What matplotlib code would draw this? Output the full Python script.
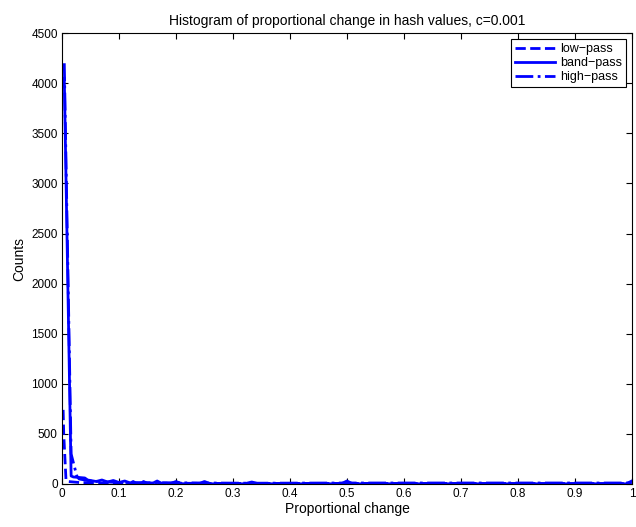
import matplotlib
matplotlib.use("Agg")
from matplotlib import pyplot as plt

plt.rcParams["font.family"] = ["Liberation Sans", "DejaVu Sans"]

# histogram curves (bin position -> count)
low_x = [0.002, 0.003, 0.007, 0.01, 0.02, 0.03, 0.05, 0.08, 0.1, 0.2, 0.25, 0.333, 0.5, 0.99, 1.0]
low_y = [740, 500, 40, 25, 20, 15, 12, 10, 8, 8, 6, 6, 6, 5, 10]

band_x = [0.004, 0.016, 0.02, 0.03, 0.04, 0.045, 0.05, 0.06, 0.07, 0.08, 0.09, 0.1, 0.11,
          0.12, 0.125, 0.13, 0.14, 0.143, 0.15, 0.16, 0.167, 0.175, 0.19, 0.2, 0.21,
          0.24, 0.25, 0.26, 0.32, 0.333, 0.345, 0.49, 0.5, 0.51, 0.99, 1.0]
band_y = [4050, 80, 70, 65, 60, 40, 35, 25, 40, 20, 35, 15, 30,
          10, 25, 5, 10, 25, 5, 10, 30, 5, 3, 25, 3,
          2, 25, 2, 2, 20, 2, 2, 30, 2, 2, 30]

high_x = [0.004, 0.016, 0.026, 0.03, 0.05, 0.08, 0.1, 0.2, 0.25, 0.333, 0.5, 1.0]
high_y = [4200, 300, 80, 50, 30, 20, 15, 12, 10, 8, 10, 10]

x_ticks = [0, 0.1, 0.2, 0.3, 0.4, 0.5, 0.6, 0.7, 0.8, 0.9, 1]
x_labels = ["0", "0.1", "0.2", "0.3", "0.4", "0.5", "0.6", "0.7", "0.8", "0.9", "1"]
y_ticks = [0, 500, 1000, 1500, 2000, 2500, 3000, 3500, 4000, 4500]


def main():
    fig = plt.figure(figsize=(6.36, 5.27), dpi=100)
    ax = fig.add_axes([0.0975, 0.0816, 0.896, 0.8554])

    ax.plot(low_x, low_y, "--", color="blue", lw=2, label="low\u2212pass")
    ax.plot(band_x, band_y, "-", color="blue", lw=2, label="band\u2212pass")
    ax.plot(high_x, high_y, "-.", color="blue", lw=2, label="high\u2212pass")

    ax.set_xlim(0, 1)
    ax.set_ylim(0, 4500)
    ax.set_xticks(x_ticks)
    ax.set_xticklabels(x_labels)
    ax.set_yticks(y_ticks)
    ax.tick_params(direction="in", top=True, right=True, labelsize=8.5, length=4, pad=3)
    for s in ax.spines.values():
        s.set_linewidth(0.8)

    ax.set_title("Histogram of proportional change in hash values, c=0.001", fontsize=10, pad=6)
    ax.set_xlabel("Proportional change", fontsize=10, labelpad=1)
    ax.set_ylabel("Counts", fontsize=10, labelpad=4)

    leg = ax.legend(loc="upper right", fontsize=9, fancybox=False, framealpha=1,
                    edgecolor="black", borderaxespad=0.5, handlelength=3.2,
                    labelspacing=0.15, borderpad=0.3, handletextpad=0.4)
    leg.get_frame().set_linewidth(0.8)

    fig.savefig("out.png")


if __name__ == "__main__":
    main()
